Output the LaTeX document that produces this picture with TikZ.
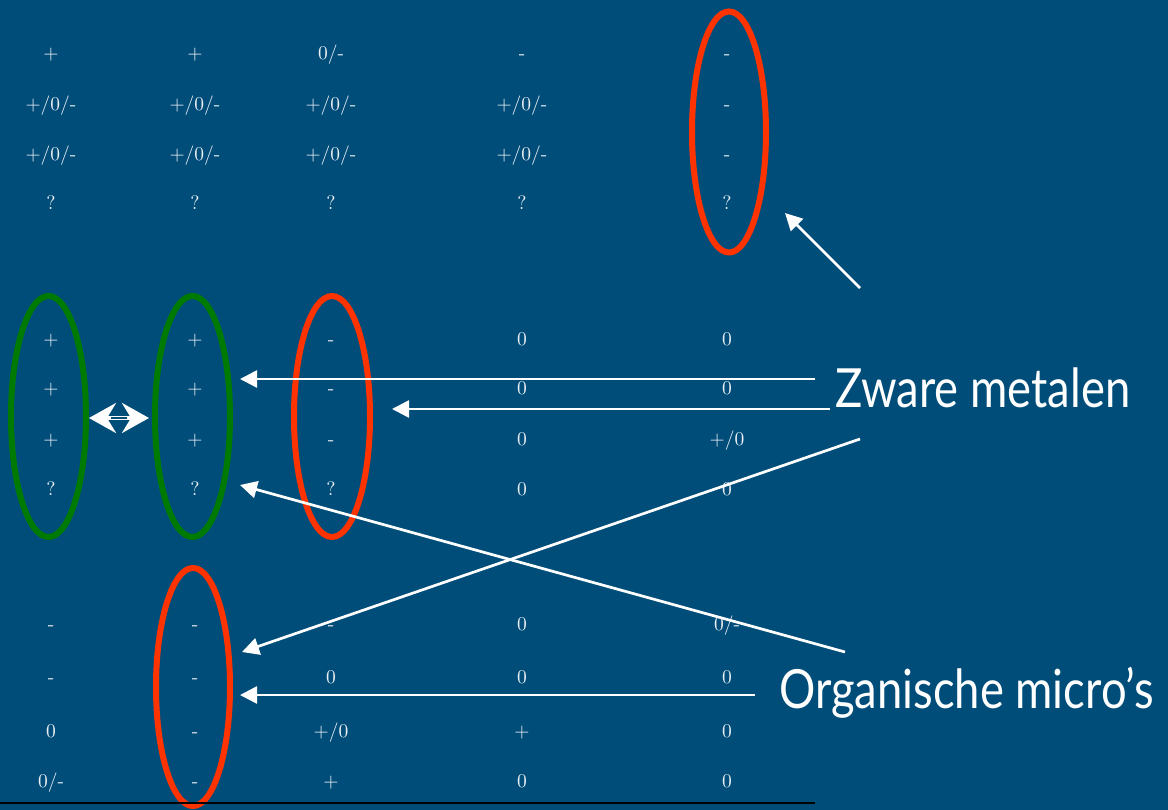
\documentclass[tikz,border=0pt]{standalone}
\usepackage{fontspec}
\newfontfamily\labelfont[FakeStretch=0.84]{Lato}
\newfontfamily\cellfont{lmroman10-regular}[Extension=.otf]
\usetikzlibrary{arrows.meta,shapes.geometric}
\definecolor{bg}{RGB}{0,77,122}
\definecolor{redring}{RGB}{255,51,0}
\definecolor{greenring}{RGB}{0,122,0}
\definecolor{cell}{RGB}{236,240,244}
\tikzset{
  cellt/.style={text=cell, anchor=base, inner sep=0pt, font=\cellfont\fontsize{19.5}{24}\selectfont},
  ring/.style={ellipse, draw, line width=6pt, inner sep=0pt, minimum width=74pt, minimum height=241pt},
  redr/.style={ring, draw=redring},
  greenr/.style={ring, draw=greenring},
  arr/.style={draw=white, line width=2.7pt, -{Triangle[length=17pt, width=17pt]}},
  DTip/.tip={Stealth[length=27pt, width=30pt, inset=9pt]},
  biglabel/.style={text=white, anchor=base west, inner sep=0pt, font=\labelfont\fontsize{54}{60}\selectfont},
}
\begin{document}
\begin{tikzpicture}[x=1pt,y=-1pt]
\fill[bg] (0,0) rectangle (1168,810);
\useasboundingbox (0,0) rectangle (1168,810);
% group 1
\foreach \r/\y/\a/\b/\c/\d/\e in {
  0/60/{+}/{+}/{0/-}/{-}/{-},
  1/111/{+/0/-}/{+/0/-}/{+/0/-}/{+/0/-}/{-},
  2/161/{+/0/-}/{+/0/-}/{+/0/-}/{+/0/-}/{-},
  3/210/{?}/{?}/{?}/{?}/{?}}{
  \node[cellt] (ga\r a) at (51,\y) {\a};
  \node[cellt] (ga\r b) at (195,\y) {\b};
  \node[cellt] (ga\r c) at (331,\y) {\c};
  \node[cellt] (ga\r d) at (522,\y) {\d};
  \node[cellt] (ga\r e) at (727,\y) {\e};
}
% group 2
\foreach \r/\y/\a/\b/\c/\d/\e in {
  0/346/{+}/{+}/{-}/{0}/{0},
  1/395/{+}/{+}/{-}/{0}/{0},
  2/445/{+}/{+}/{-}/{0}/{+/0},
  3/495/{?}/{?}/{?}/{0}/{0}}{
  \node[cellt] (gb\r a) at (51,\y) {\a};
  \node[cellt] (gb\r b) at (195,\y) {\b};
  \node[cellt] (gb\r c) at (331,\y) {\c};
  \node[cellt] (gb\r d) at (522,\y) {\d};
  \node[cellt] (gb\r e) at (727,\y) {\e};
}
% group 3
\foreach \r/\y/\a/\b/\c/\d/\e in {
  0/630/{-}/{-}/{-}/{0}/{0/-},
  1/683/{-}/{-}/{0}/{0}/{0},
  2/737/{0}/{-}/{+/0}/{+}/{0},
  3/787/{0/-}/{-}/{+}/{0}/{0}}{
  \node[cellt] (gc\r a) at (51,\y) {\a};
  \node[cellt] (gc\r b) at (195,\y) {\b};
  \node[cellt] (gc\r c) at (331,\y) {\c};
  \node[cellt] (gc\r d) at (522,\y) {\d};
  \node[cellt] (gc\r e) at (727,\y) {\e};
}
% rings
\node[redr] (r1) at (729,132) {};
\node[greenr, minimum width=75pt] (g1) at (48.5,416.5) {};
\node[greenr, minimum width=75pt] (g2) at (192.5,416.5) {};
\node[redr, minimum width=76pt] (r2) at (332,416.5) {};
\node[redr, minimum height=238pt] (r3) at (193,687) {};
% bottom rule
\coordinate (bl) at (0,803);
\coordinate (br) at (815,803);
\draw[black, line width=2.5pt] (bl) -- (br);
% labels
\node[biglabel] (zm) at (835,407) {Zware metalen};
\node[biglabel] (om) at (779,708) {Organische micro’s};
% arrow endpoints
\coordinate (s1) at (860,288);  \coordinate (t1) at (785,213);
\coordinate (s2) at (815,379);  \coordinate (t2) at (240,379);
\coordinate (s3) at (830,409);  \coordinate (t3) at (392,409);
\coordinate (s4) at (860,439);  \coordinate (t4) at (242,652);
\coordinate (s5) at (845,652);  \coordinate (t5) at (240,485);
\coordinate (s6) at (755,695);  \coordinate (t6) at (240,695);
\draw[arr] (s1) -- (t1);
\draw[arr] (s2) -- (t2);
\draw[arr] (s3) -- (t3);
\draw[arr] (s4) -- (t4);
\draw[arr] (s5) -- (t5);
\draw[arr] (s6) -- (t6);
% double arrow between the green rings
\coordinate (d1) at (89,418);
\coordinate (d2) at (149,418);
\draw[white, line width=4pt, DTip-DTip] (d1) -- (d2);
\draw[bg, line width=1.2pt, shorten <=22pt, shorten >=22pt] (d1) -- (d2);
\end{tikzpicture}
\end{document}
